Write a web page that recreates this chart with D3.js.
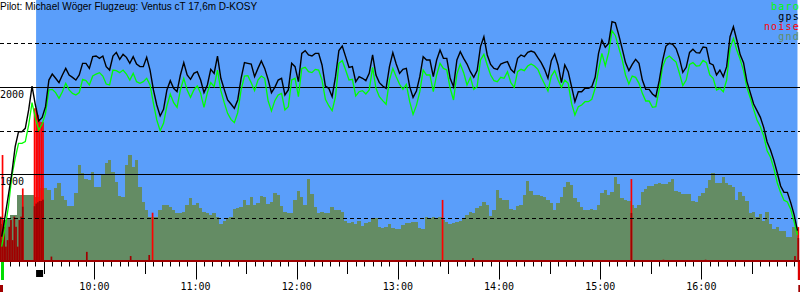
<!DOCTYPE html>
<html lang="de">
<head>
<meta charset="UTF-8" />
<title>Barogramm D-KOSY</title>
<style>
  body { margin: 0; padding: 0; background: #fff; }
  svg { display: block; }
  .mono { font-family: "DejaVu Sans Mono", monospace; }
</style>
</head>
<body>
<svg id="chart" width="800" height="300"></svg>
<script src="https://d3js.org/d3.v7.min.js"></script>
<script>
  // flight info
  const title = "Pilot: Michael Wöger Flugzeug: Ventus cT 17,6m D-KOSY";
  const takeoffT = 545, releaseT = 565.4, landingT = 1017.5;   // minutes since 0:00
  const sampleStart = 545, sampleStep = 2;                      // one sample every 2 min

  // altitude in m, GPS
  const gps = [
    279, 509, 760, 1008, 1314, 1486, 1486, 1525, 1736, 2011, 1793, 1609, 1651, 1774, 2080, 2149, 2100,
    2050, 2138, 2214, 2138, 2111, 2080, 2138, 2272, 2272, 2214, 2349, 2356, 2329, 2356, 2234, 2195,
    2356, 2398, 2318, 2375, 2341, 2272, 2349, 2264, 2234, 2234, 2341, 2195, 1966, 1793, 1667, 1743,
    1966, 2073, 1985, 1946, 2138, 2280, 2138, 2088, 2157, 2176,
    2080, 1935, 2023, 2203, 2157, 2356, 2100, 1973, 1851, 1805, 1755, 1851, 2100, 2280, 2272, 2264,
    2119, 2214, 2299, 2214, 2088, 1935, 1996, 2080, 2100, 1908, 1966, 2272, 2234, 2061, 2387, 2418,
    2368, 2356, 2387, 2387, 2253, 2011, 1985, 1889, 2119, 2418, 2471, 2349, 2226, 2234, 2061, 2119,
    2100, 2073, 2157, 2368, 2138, 2050, 2011, 1985, 2234, 2395, 2264, 2157,
    2203, 2214, 2004, 1881, 1954, 2119, 2349, 2310, 2310, 2119, 2310, 2425, 2329, 2329, 2100, 2004,
    2310, 2406, 2329, 2264, 2176, 2111, 2188, 2464, 2578, 2368, 2260, 2214, 2203, 2264, 2280, 2291,
    2203, 2165, 2329, 2368, 2349, 2398, 2414, 2398, 2337, 2280, 2203, 2100, 2303, 2379, 2253, 2050,
    2253, 2176, 2004, 1831, 1946, 1946, 1985, 1985, 2004, 2111, 2387,
    2540, 2456, 2502, 2751, 2739, 2598, 2444, 2280, 2188, 2260, 2318, 2272, 2080, 1973, 1973, 1920,
    1889, 2073, 2303, 2471, 2502, 2490, 2441, 2329, 2169, 2226, 2398, 2433, 2395, 2391, 2460, 2452,
    2272, 2253, 2138, 2195, 2119, 2234, 2578, 2693, 2540, 2372, 2280, 2065, 1935, 1805, 1728, 1651,
    1533, 1368, 1276, 1157, 1015, 862, 789, 789, 671, 533, 350
  ];

  // altitude in m, barometric
  const baro = [
    165, 376, 625, 969, 1180, 1353, 1353, 1372, 1563, 1820, 1640, 1506, 1575, 1697, 1966, 1973, 1935,
    1870, 1946, 2042, 1966, 1927, 1908, 1935, 2088, 2073, 2023, 2126, 2149, 2165, 2126, 2034, 2023,
    2195, 2188, 2165, 2195, 2149, 2080, 2157, 2061, 2042, 2061, 2100, 2023, 1812, 1621, 1498, 1582,
    1782, 1920, 1820, 1766, 1966, 2100, 1966, 1881, 1966, 2011,
    1927, 1766, 1935, 2050, 2004, 2195, 1958, 1820, 1697, 1628, 1590, 1705, 1966, 2126, 2130, 2050,
    1958, 2080, 2126, 2100, 1843, 1724, 1843, 1908, 1927, 1736, 1774, 2080, 2100, 1889, 2214, 2226,
    2176, 2165, 2203, 2195, 2080, 1858, 1785, 1728, 1889, 2272, 2303, 2195, 2080, 2088, 1897, 1946,
    1958, 1920, 1966, 2226, 1985, 1889, 1843, 1801, 2080, 2214, 2119, 2031,
    1973, 2031, 1831, 1686, 1789, 1946, 2195, 2138, 2138, 1946, 2138, 2272, 2214, 2195, 1985, 1851,
    2149, 2264, 2165, 2023, 2111, 1973, 2004, 2310, 2375, 2253, 2138, 2073, 2061, 2111, 2100, 2176,
    2050, 1996, 2176, 2203, 2188, 2241, 2264, 2241, 2203, 2111, 2034, 1954, 2126, 2188, 2080, 1996,
    2080, 2042, 1812, 1678, 1774, 1793, 1831, 1831, 1858, 1985, 2195,
    2387, 2245, 2395, 2647, 2590, 2452, 2318, 2138, 2034, 2126, 2111, 2042, 1927, 1839, 1839, 1766,
    1774, 1973, 2234, 2329, 2356, 2318, 2287, 2157, 2015, 2080, 2260, 2280, 2241, 2245, 2306, 2280,
    2138, 2100, 1966, 1985, 1946, 2080, 2444, 2559, 2425, 2318, 2188, 1992, 1877, 1743, 1621, 1544,
    1437, 1268, 1192, 1065, 900, 786, 697, 678, 594, 452, 299
  ];

  // terrain height below the track in m
  const gnd = [
    420, 470, 500, 530, 530, 760, 760, 760, 760, 760, 740, 740,
    835, 835, 816, 701, 835, 893, 747, 701, 632, 632, 778, 1104, 1008, 939, 931, 1027, 854, 854,
    989, 1123, 1161, 1027, 912, 747, 732, 1104, 1218, 1084, 1161, 854, 682, 586, 510, 510, 510, 586,
    644, 644, 625, 586, 548, 548, 567, 644, 720, 644, 663,
    605, 567, 548, 529, 548, 510, 425, 464, 491, 510, 594, 605, 617, 701, 644, 739, 644, 663, 747,
    739, 655, 682, 786, 759, 632, 567, 556, 556, 701, 809, 739, 644, 939, 770, 617, 556, 567, 548,
    548, 625, 586, 586, 559, 464, 433, 452, 425, 464, 402, 433, 448, 479, 498, 387, 376, 387, 425,
    376, 368, 368,
    414, 433, 433, 452, 452, 376, 368, 510, 491, 510, 479, 510, 471, 452, 425, 433, 452, 464, 491,
    529, 567, 556, 605, 632, 678, 644, 517, 586, 816, 720, 701, 701, 594, 586, 632, 644, 759, 923,
    809, 759, 759, 747, 739, 701, 663, 586, 671, 732, 854, 912, 874, 720, 682, 625, 586, 586, 598,
    586, 644,
    778, 816, 759, 797, 962, 885, 720, 701, 694, 644, 605, 644, 797, 828, 862, 866, 889, 893, 885,
    885, 912, 939, 809, 789, 770, 770, 770, 690, 682, 751, 778, 835, 931, 1008, 893, 893, 969, 893,
    874, 854, 701, 797, 747, 694, 556, 567, 510, 540, 460, 567, 425, 368, 387, 349, 349, 280, 272,
    395, 356
  ];

  // engine noise level (0..1000), one-minute bars
  const noiseTime   = [544, 545, 546, 547, 548, 549, 550, 551, 552, 553, 554, 555, 556, 557,
                       564, 565, 566, 567, 568, 569, 574, 595, 621, 632, 634, 806, 824, 918, 937, 962, 1015, 1017];
  const noiseDark   = [170, 80, 131, 55, 80, 131, 157, 80, 170, 131, 55, 157, 170, 208,
                       210, 220, 225, 230, 230, 235, 17, 35, 19, 23, 0, 0, 11, 184, 5, 5, 19, 88];
  const noiseBright = [0, 406, 0, 0, 0, 0, 0, 0, 0, 0, 0, 0, 0, 278,
                       585, 585, 560, 535, 532, 532, 0, 0, 0, 0, 185, 234, 0, 314, 0, 0, 0, 130];

  const gridSolid = [1000, 2000];
  const gridDashed = [500, 1500, 2500];
  const hourLabels = ["10:00", "11:00", "12:00", "13:00", "14:00", "15:00", "16:00"];
  const legend = [["baro", "#00ff00"], ["gps", "#000000"], ["noise", "#ff0000"], ["gnd", "#648c64"]];

  const svg = d3.select("#chart");
  const W = 800, baseY = 261;

  const x = d3.scaleLinear().domain([544, 1018.5]).range([0, W]);
  const y = d3.scaleLinear().domain([0, 3000]).range([baseY, 0]);
  const yNoise = d3.scaleLinear().domain([0, 1000]).range([baseY, 0]);
  const tAt = i => sampleStart + i * sampleStep;

  // flight time background
  svg.append("rect")
    .attr("x", x(releaseT)).attr("y", 0)
    .attr("width", x(landingT - 0.5) - x(releaseT)).attr("height", baseY)
    .attr("fill", "#5a9efa");

  // terrain
  const gndPts = gnd.map((v, i) => [tAt(i) - 1, v]);
  gndPts.push([tAt(gnd.length - 1) + 1, gnd[gnd.length - 1]]);
  svg.append("path")
    .datum(gndPts)
    .attr("fill", "#648c64")
    .attr("shape-rendering", "crispEdges")
    .attr("d", d3.area().curve(d3.curveStepAfter)
      .x(d => x(d[0])).y0(baseY).y1(d => y(d[1])));

  // noise bars
  const noise = noiseTime.map((t, i) => ({ t, lo: noiseDark[i], hi: noiseBright[i] }));
  svg.append("g").selectAll("rect")
    .data(noise.filter(d => d.hi > 0))
    .enter().append("rect")
    .attr("x", d => x(d.t)).attr("width", d => x(d.t + 1) - x(d.t))
    .attr("y", d => yNoise(d.hi)).attr("height", d => baseY - yNoise(d.hi))
    .attr("fill", "#ff0000");
  svg.append("g").selectAll("rect")
    .data(noise.filter(d => d.lo > 0))
    .enter().append("rect")
    .attr("x", d => x(d.t)).attr("width", d => x(d.t + 1) - x(d.t))
    .attr("y", d => yNoise(d.lo)).attr("height", d => baseY - yNoise(d.lo))
    .attr("fill", "#a00000");

  // grid
  svg.append("g").selectAll("line")
    .data(gridSolid.concat(gridDashed))
    .enter().append("line")
    .attr("x1", 0).attr("x2", W)
    .attr("y1", d => Math.round(y(d)) + 0.5).attr("y2", d => Math.round(y(d)) + 0.5)
    .attr("stroke", "#000").attr("stroke-width", 1)
    .attr("stroke-dasharray", d => gridDashed.includes(d) ? "4,3" : null);

  svg.append("g").selectAll("text")
    .data(gridSolid)
    .enter().append("text")
    .attr("class", "mono")
    .attr("x", 0).attr("y", d => y(d) + 10.5)
    .attr("font-size", 10)
    .text(d => d);

  // altitude lines
  const line = d3.line().x((d, i) => x(tAt(i))).y(d => y(d));
  svg.append("path").datum(baro)
    .attr("fill", "none").attr("stroke", "#00ff00").attr("stroke-width", 1.3)
    .attr("d", line);
  svg.append("path").datum(gps)
    .attr("fill", "none").attr("stroke", "#000").attr("stroke-width", 1.4)
    .attr("d", line);

  // time axis
  svg.append("rect")
    .attr("x", 0).attr("y", baseY - 1).attr("width", W).attr("height", 2)
    .attr("fill", "#a00000");

  const ticks = d3.range(545, 1018, 5);
  svg.append("g").selectAll("line")
    .data(ticks)
    .enter().append("line")
    .attr("x1", d => Math.round(x(d)) + 0.5).attr("x2", d => Math.round(x(d)) + 0.5)
    .attr("y1", baseY + 1)
    .attr("y2", d => d % 60 === 0 ? 279.5 : d % 30 === 0 ? 274 : 266.5)
    .attr("stroke", "#000").attr("stroke-width", 1);

  svg.append("g").selectAll("text")
    .data(hourLabels)
    .enter().append("text")
    .attr("class", "mono")
    .attr("x", (d, i) => x(600 + i * 60))
    .attr("y", 290)
    .attr("text-anchor", "middle")
    .attr("font-size", 10)
    .text(d => d);

  // event markers below the axis
  svg.append("rect").attr("x", x(takeoffT) - 0.7).attr("y", 262).attr("width", 3).attr("height", 18)
    .attr("fill", "#00dd00");
  svg.append("rect").attr("x", 0).attr("y", 285).attr("width", 3).attr("height", 7)
    .attr("fill", "#a00000");
  svg.append("rect").attr("x", x(releaseT)).attr("y", 270).attr("width", 7).attr("height", 7)
    .attr("fill", "#000");
  svg.append("rect").attr("x", x(landingT) - 0.5).attr("y", 262).attr("width", 3).attr("height", 18)
    .attr("fill", "#dd0000");
  svg.append("rect").attr("x", x(landingT)).attr("y", 285).attr("width", 2).attr("height", 7)
    .attr("fill", "#a00000");

  // title and legend
  svg.append("text")
    .attr("x", 0).attr("y", 10)
    .attr("font-family", "'Liberation Sans', Arial, sans-serif")
    .attr("font-size", 10)
    .text(title);

  svg.append("g").selectAll("text")
    .data(legend)
    .enter().append("text")
    .attr("class", "mono")
    .attr("x", 800).attr("y", (d, i) => 10 + i * 10)
    .attr("text-anchor", "end")
    .attr("font-size", 10)
    .attr("letter-spacing", 1.2)
    .attr("fill", d => d[1])
    .text(d => d[0]);
</script>
</body>
</html>
